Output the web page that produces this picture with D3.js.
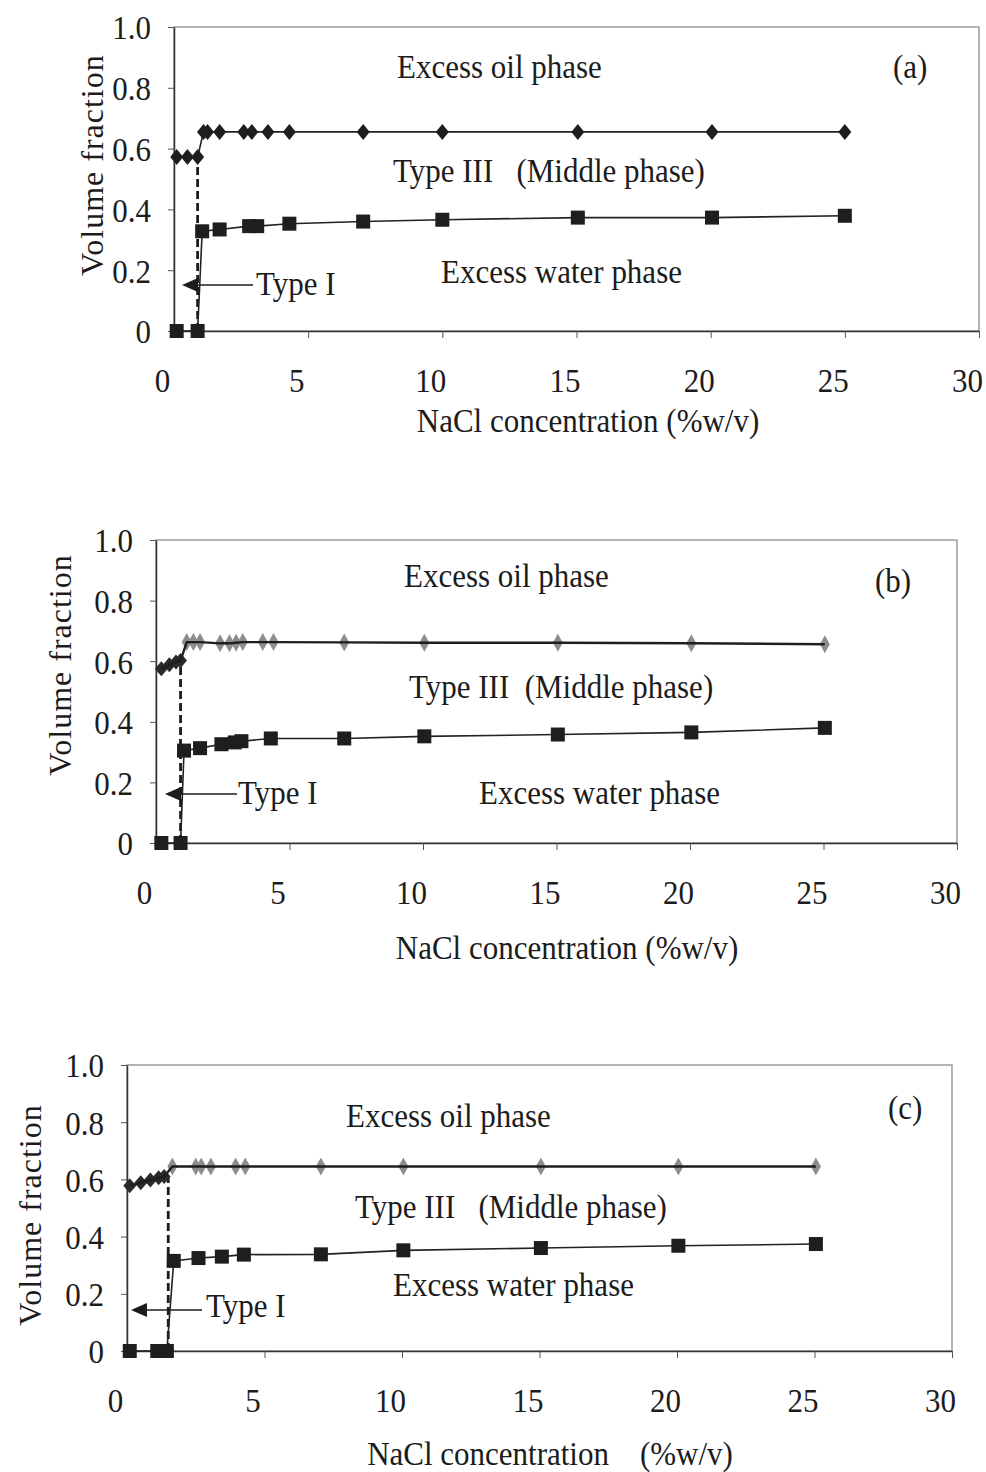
<!DOCTYPE html>
<html>
<head>
<meta charset="utf-8">
<script src="https://cdn.jsdelivr.net/npm/d3@7"></script>
<style>
  body { margin: 0; background: #fff; }
  svg { display: block; }
  text { font-family: "Liberation Serif", "Times New Roman", serif; fill: #1c1c1c; }
</style>
</head>
<body>
<svg id="chart" width="986" height="1472"></svg>
<script>
// Axis ticks shared by all three panels
const xTicks = [0, 5, 10, 15, 20, 25, 30];
const yTicks = [0, 0.2, 0.4, 0.6, 0.8, 1.0];

// (a) oil/middle boundary (diamonds) and middle/water boundary (squares)
const aOilX   = [0.1, 0.5, 0.88, 1.1, 1.25, 1.7, 2.6, 2.9, 3.5, 4.3, 7.05, 10, 15.05, 20.05, 25];
const aOilY   = [0.572, 0.572, 0.572, 0.655, 0.655, 0.655, 0.655, 0.655, 0.655, 0.655, 0.655, 0.655, 0.655, 0.655, 0.655];
const aWaterX = [0.1, 0.88, 1.05, 1.7, 2.8, 3.1, 4.3, 7.05, 10, 15.05, 20.05, 25];
const aWaterY = [0, 0, 0.328, 0.334, 0.345, 0.345, 0.353, 0.36, 0.366, 0.373, 0.373, 0.379];

// (b)
const bOilX   = [0.2, 0.5, 0.75, 0.92, 1.15, 1.4, 1.65, 2.4, 2.75, 3.0, 3.25, 4.0, 4.4, 7.05, 10.05, 15.05, 20.05, 25.05];
const bOilY   = [0.575, 0.588, 0.597, 0.602, 0.663, 0.663, 0.663, 0.659, 0.659, 0.661, 0.663, 0.663, 0.663, 0.662, 0.661, 0.661, 0.659, 0.656];
const bWaterX = [0.2, 0.92, 1.05, 1.65, 2.45, 2.95, 3.2, 4.3, 7.05, 10.05, 15.05, 20.05, 25.05];
const bWaterY = [0, 0, 0.305, 0.313, 0.326, 0.332, 0.336, 0.345, 0.345, 0.352, 0.358, 0.365, 0.38];

// (c)
const cOilX   = [0.1, 0.5, 0.85, 1.15, 1.35, 1.65, 2.5, 2.7, 3.05, 3.95, 4.3, 7.05, 10.05, 15.05, 20.05, 25.05];
const cOilY   = [0.578, 0.588, 0.598, 0.606, 0.61, 0.645, 0.645, 0.645, 0.645, 0.645, 0.645, 0.645, 0.645, 0.645, 0.645, 0.645];
const cWaterX = [0.1, 1.1, 1.45, 1.7, 2.6, 3.45, 4.25, 7.05, 10.05, 15.05, 20.05, 25.05];
const cWaterY = [0, 0, 0, 0.315, 0.325, 0.33, 0.337, 0.338, 0.352, 0.36, 0.368, 0.374];

// Type I / Type III transition salinity and the height the dashed marker reaches
const boundaryX   = [0.88, 0.92, 1.5];
const boundaryTop = [0.572, 0.602, 0.61];

const panels = [
  {
    oilX: aOilX, oilY: aOilY, waterX: aWaterX, waterY: aWaterY,
    bx: boundaryX[0], bTop: boundaryTop[0],
    box: { left: 174, right: 979, top: 27, bottom: 331 },
    arrow: { tip: 182, end: 253, y: 285 },
    notes: [
      { t: "Excess oil phase", x: 397, y: 66 },
      { t: "(a)", x: 893, y: 66 },
      { t: "Type III   (Middle phase)", x: 393, y: 170 },
      { t: "Excess water phase", x: 441, y: 271 },
      { t: "Type I", x: 256, y: 283 }
    ],
    yTitle: { x: 92, y: 165 },
    xTitle: { t: "NaCl concentration (%w/v)", x: 588, y: 420 },
    fadedDiamonds: false
  },
  {
    oilX: bOilX, oilY: bOilY, waterX: bWaterX, waterY: bWaterY,
    bx: boundaryX[1], bTop: boundaryTop[1],
    box: { left: 156, right: 957, top: 540, bottom: 843 },
    arrow: { tip: 165, end: 237, y: 794 },
    notes: [
      { t: "Excess oil phase", x: 404, y: 575 },
      { t: "(b)", x: 875, y: 580 },
      { t: "Type III  (Middle phase)", x: 409, y: 686 },
      { t: "Excess water phase", x: 479, y: 792 },
      { t: "Type I", x: 238, y: 792 }
    ],
    yTitle: { x: 60, y: 665 },
    xTitle: { t: "NaCl concentration (%w/v)", x: 567, y: 947 },
    fadedDiamonds: true
  },
  {
    oilX: cOilX, oilY: cOilY, waterX: cWaterX, waterY: cWaterY,
    bx: boundaryX[2], bTop: boundaryTop[2],
    box: { left: 127, right: 952, top: 1065, bottom: 1351 },
    arrow: { tip: 131, end: 202, y: 1310 },
    notes: [
      { t: "Excess oil phase", x: 346, y: 1115 },
      { t: "(c)", x: 888, y: 1107 },
      { t: "Type III   (Middle phase)", x: 355, y: 1206 },
      { t: "Excess water phase", x: 393, y: 1284 },
      { t: "Type I", x: 206, y: 1305 }
    ],
    yTitle: { x: 30, y: 1215 },
    xTitle: { t: "NaCl concentration    (%w/v)", x: 550, y: 1453 },
    fadedDiamonds: true
  }
];

const FONT = 31;
const STRETCH = 1.1;   // glyphs are a little taller than the regular face
const svg = d3.select("#chart");

const diamondPath = (w, h) => `M0,${-h}L${w},0L0,${h}L${-w},0Z`;

function label(g, t, px, py, anchor) {
  return g.append("text")
    .attr("transform", `translate(${px},${py}) scale(1,${STRETCH})`)
    .attr("text-anchor", anchor || "start")
    .attr("dominant-baseline", "central")
    .attr("font-size", FONT)
    .style("white-space", "pre")
    .text(t);
}

panels.forEach(p => {
  const x = d3.scaleLinear().domain([0, 30]).range([p.box.left, p.box.right]);
  const y = d3.scaleLinear().domain([0, 1]).range([p.box.bottom, p.box.top]);
  const g = svg.append("g");

  // plot frame
  g.append("rect")
    .attr("x", p.box.left).attr("y", p.box.top)
    .attr("width", p.box.right - p.box.left).attr("height", p.box.bottom - p.box.top)
    .attr("fill", "none").attr("stroke", "#8c8c8c").attr("stroke-width", 1.3);

  // x axis
  const xa = g.append("g").attr("transform", `translate(0,${p.box.bottom})`)
    .call(d3.axisBottom(x).tickValues(xTicks).tickSize(7).tickSizeOuter(0).tickFormat(d3.format("d")));
  xa.select(".domain").attr("stroke", "#333").attr("stroke-width", 1.5);
  xa.selectAll(".tick line").attr("stroke", "#555").attr("stroke-width", 1);
  xa.selectAll(".tick text")
    .attr("font-size", FONT).attr("font-family", "Liberation Serif").attr("fill", "#1c1c1c")
    .attr("x", 0).attr("y", 0).attr("dy", "0.35em")
    .attr("transform", `translate(-12,49) scale(1,${STRETCH})`);

  // y axis
  const ya = g.append("g").attr("transform", `translate(${p.box.left},0)`)
    .call(d3.axisLeft(y).tickValues(yTicks).tickSize(6).tickSizeOuter(0)
      .tickFormat(d => d === 0 ? "0" : d3.format(".1f")(d)));
  ya.select(".domain").attr("stroke", "#333").attr("stroke-width", 1.5);
  ya.selectAll(".tick line").attr("stroke", "#555").attr("stroke-width", 1);
  ya.selectAll(".tick text")
    .attr("font-size", FONT).attr("font-family", "Liberation Serif").attr("fill", "#1c1c1c")
    .attr("x", 0).attr("dy", "0.35em")
    .attr("transform", `translate(-23,0) scale(1,${STRETCH})`);

  // axis titles
  g.append("text")
    .attr("transform", `translate(${p.yTitle.x},${p.yTitle.y}) rotate(-90)`)
    .attr("text-anchor", "middle").attr("dominant-baseline", "central")
    .attr("font-size", FONT + 1).style("letter-spacing", "1px")
    .text("Volume fraction");
  label(g, p.xTitle.t, p.xTitle.x, p.xTitle.y, "middle");

  // region annotations
  p.notes.forEach(n => label(g, n.t, n.x, n.y));

  // dashed Type I / Type III transition
  g.append("line")
    .attr("x1", x(p.bx)).attr("x2", x(p.bx))
    .attr("y1", y(0)).attr("y2", y(p.bTop))
    .attr("stroke", "#1c1c1c").attr("stroke-width", 2.8).attr("stroke-dasharray", "8,4");

  // Type I arrow
  g.append("line")
    .attr("x1", p.arrow.tip + 12).attr("x2", p.arrow.end)
    .attr("y1", p.arrow.y).attr("y2", p.arrow.y)
    .attr("stroke", "#1c1c1c").attr("stroke-width", 1.4);
  g.append("path")
    .attr("d", `M${p.arrow.tip},${p.arrow.y}L${p.arrow.tip + 16},${p.arrow.y - 7}L${p.arrow.tip + 16},${p.arrow.y + 7}Z`)
    .attr("fill", "#1c1c1c");

  const line = d3.line().x(d => x(d[0])).y(d => y(d[1]));
  const oil = p.oilX.map((v, i) => [v, p.oilY[i]]);
  const water = p.waterX.map((v, i) => [v, p.waterY[i]]);

  // middle/water boundary
  g.append("path").datum(water).attr("d", line)
    .attr("fill", "none").attr("stroke", "#222").attr("stroke-width", 1.6);
  g.selectAll(null).data(water).join("rect")
    .attr("x", d => x(d[0]) - 7).attr("y", d => y(d[1]) - 7)
    .attr("width", 14).attr("height", 14).attr("fill", "#1e1e1e");

  // oil/middle boundary
  if (p.fadedDiamonds) {
    g.selectAll(null).data(oil).join("path")
      .attr("transform", d => `translate(${x(d[0])},${y(d[1])})`)
      .attr("d", d => d[1] > 0.63 ? diamondPath(5, 9) : diamondPath(6.5, 7.5))
      .attr("fill", d => d[1] > 0.63 ? "#8d8d8d" : "#2a2a2a");
    g.append("path").datum(oil).attr("d", line)
      .attr("fill", "none").attr("stroke", "#1e1e1e").attr("stroke-width", 2.4);
  } else {
    g.append("path").datum(oil).attr("d", line)
      .attr("fill", "none").attr("stroke", "#222").attr("stroke-width", 1.6);
    g.selectAll(null).data(oil).join("path")
      .attr("transform", d => `translate(${x(d[0])},${y(d[1])})`)
      .attr("d", diamondPath(6.5, 8))
      .attr("fill", "#1e1e1e");
  }
});
</script>
</body>
</html>
